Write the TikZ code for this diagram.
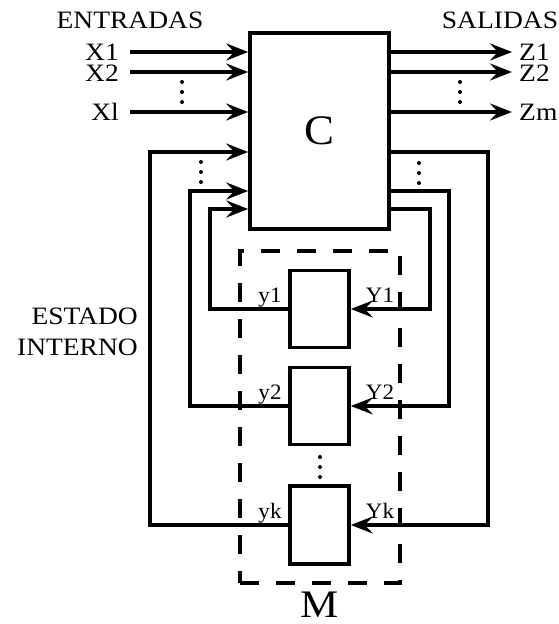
\documentclass[tikz,border=0pt]{standalone}
\usepackage{fontspec}
\setmainfont{Liberation Serif}
\usepackage{graphicx}
\usetikzlibrary{arrows.meta}
\begin{document}
\begin{tikzpicture}[x=1pt,y=-1pt,
  wire/.style={line width=3.4pt},
  arr/.style={wire,-{Stealth[length=22pt,width=17pt,inset=8pt]}},
  blk/.style={draw,line width=3.6pt,inner sep=0pt},
  lbl/.style={inner sep=0pt,font=\fontsize{25}{25}\selectfont},
  ylbl/.style={inner sep=0pt,font=\fontsize{22}{22}\selectfont},
  dotc/.style={fill=black},
]
\useasboundingbox (0,0) rectangle (559,624);

% memory dashed box
\node[draw,line width=3.2pt,dash pattern=on 19pt off 17pt,minimum width=160pt,minimum height=332pt,inner sep=0pt] (Mbox) at (320,417) {};

% combinational block
\node[blk,minimum width=139pt,minimum height=196pt] (C) at (319.5,131)
  {\fontsize{42}{42}\selectfont\scalebox{1.07}[1]{C}};

% memory elements
\node[blk,minimum width=59pt,minimum height=77pt] (B1) at (319.5,309) {};
\node[blk,minimum width=59pt,minimum height=77pt] (B2) at (319.5,406) {};
\node[blk,minimum width=59pt,minimum height=78pt] (B3) at (319.5,525) {};

% titles
\node[lbl] (ent) at (130,20) {\scalebox{1.1}[1]{ENTRADAS}};
\node[lbl] (sal) at (500,20) {\scalebox{1.1}[1]{SALIDAS}};
\node[lbl,anchor=east] (est) at (138,316) {\scalebox{1.1}[1]{ESTADO}};
\node[lbl,anchor=east] (int) at (138,347) {\scalebox{1.1}[1]{INTERNO}};
\node[inner sep=0pt,font=\fontsize{39}{39}\selectfont,anchor=base] (M) at (320,617) {\scalebox{1.1}[1]{M}};

% inputs
\coordinate (xs1) at (130,52);
\coordinate (xs2) at (130,72);
\coordinate (xsl) at (130,112);
\node[lbl,anchor=east] (X1) at (119,52) {\scalebox{1.1}[1]{X1}};
\node[lbl,anchor=east] (X2) at (119,73) {\scalebox{1.1}[1]{X2}};
\node[lbl,anchor=east] (Xl) at (119,112) {\scalebox{1.1}[1]{Xl}};
\draw[arr] (xs1) -- (xs1 -| C.west);
\draw[arr] (xs2) -- (xs2 -| C.west);
\draw[arr] (xsl) -- (xsl -| C.west);

% outputs
\coordinate (zs1) at (512,52);
\coordinate (zs2) at (512,72);
\coordinate (zsm) at (512,112);
\node[lbl,anchor=west] (Z1) at (519,52) {\scalebox{1.1}[1]{Z1}};
\node[lbl,anchor=west] (Z2) at (519,73) {\scalebox{1.1}[1]{Z2}};
\node[lbl,anchor=west] (Zm) at (519,112) {\scalebox{1.1}[1]{Zm}};
\draw[arr] (zs1 -| C.east) -- (zs1);
\draw[arr] (zs2 -| C.east) -- (zs2);
\draw[arr] (zsm -| C.east) -- (zsm);

% state feedback (memory outputs to C)
\coordinate (f1) at (150,152);
\coordinate (f2) at (190,191);
\coordinate (f3) at (210,209);
\draw[arr] (B3.west) -| (f1) -- (f1 -| C.west);
\draw[arr] (B2.west) -| (f2) -- (f2 -| C.west);
\draw[arr] (B1.west) -| (f3) -- (f3 -| C.west);

% next state (C to memory inputs)
\coordinate (g1) at (488,152);
\coordinate (g2) at (449,191);
\coordinate (g3) at (430,209);
\draw[arr] (g1 -| C.east) -- (g1) |- (B3.east);
\draw[arr] (g2 -| C.east) -- (g2) |- (B2.east);
\draw[arr] (g3 -| C.east) -- (g3) |- (B1.east);

% memory labels
\node[ylbl,anchor=base] (ly1) at (270,302) {\scalebox{1.05}[1]{y1}};
\node[ylbl,anchor=base] (lY1) at (380,302) {\scalebox{1.05}[1]{Y1}};
\node[ylbl,anchor=base] (ly2) at (270,399) {\scalebox{1.05}[1]{y2}};
\node[ylbl,anchor=base] (lY2) at (380,399) {\scalebox{1.05}[1]{Y2}};
\node[ylbl,anchor=base] (lyk) at (270,518) {\scalebox{1.05}[1]{yk}};
\node[ylbl,anchor=base] (lYk) at (380,518) {\scalebox{1.05}[1]{Yk}};

% ellipsis dots
\foreach \px/\py in {182/82, 460/82, 201/162, 419/163, 320/457}{
  \foreach \k in {0,1,2}{
    \fill[dotc] (\px,\py+10*\k) circle (2pt);
  }
}
\end{tikzpicture}
\end{document}
